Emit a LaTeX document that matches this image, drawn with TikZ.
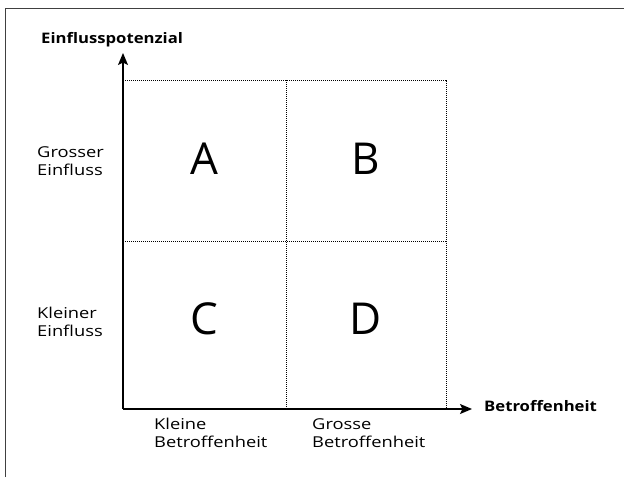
\documentclass[tikz,border=0pt]{standalone}
\usepackage{fontspec}
\setmainfont{Open Sans}
\newfontfamily\widereg{Open Sans}[FakeStretch=1.22]
\newfontfamily\widebold{Open Sans}[FakeStretch=1.15]
\usetikzlibrary{arrows.meta}
\begin{document}
\begin{tikzpicture}[x=1pt,y=-1pt,
  axis/.style={line width=1.3pt,-{Stealth[length=12pt,width=10pt,inset=2.5pt]}},
  grid/.style={line width=1pt,dash pattern=on 1.1pt off 0.9pt},
  quad/.style={font=\fontsize{44}{46}\selectfont,inner sep=0pt},
  lbl/.style={font=\widereg\fontsize{15}{17.5}\selectfont,align=left,anchor=west,inner sep=0pt},
  axlbl/.style={font=\widebold\bfseries\fontsize{14.5}{17}\selectfont,inner sep=0pt}]
\useasboundingbox (0,0) rectangle (624,477);
\fill[white] (0,0) rectangle (624,477);
\draw[line width=1.5pt,black!75] (5.5,477) -- (5.5,8.5) -- (624,8.5);
\coordinate (o) at (123,409);
\coordinate (ytip) at (123,53);
\coordinate (xtip) at (472,409);
\coordinate (tl) at (123,80);
\coordinate (tm) at (286,80);
\coordinate (tr) at (446,80);
\coordinate (bm) at (286,409);
\coordinate (br) at (446,409);
\coordinate (ml) at (123,241);
\coordinate (mr) at (446,241);
\draw[grid] (tl) -- (tr) -- (br);
\draw[grid] (tm) -- (bm);
\draw[grid] (ml) -- (mr);
\draw[axis] (o) -- (ytip);
\draw[axis] (o) -- (xtip);
\node[axlbl,anchor=base west] (yl) at (41,43) {Einflusspotenzial};
\node[axlbl,anchor=base west] (xl) at (484,411) {Betroffenheit};
\node[quad] (A) at (204,159) {A};
\node[quad] (B) at (366,159) {B};
\node[quad] (C) at (204,319) {C};
\node[quad] (D) at (366,319) {D};
\node[lbl] (g) at (37,161) {Grosser\\Einfluss};
\node[lbl] (k) at (37,322) {Kleiner\\Einfluss};
\node[lbl] (kb) at (154,433) {Kleine\\Betroffenheit};
\node[lbl] (gb) at (312,433) {Grosse\\Betroffenheit};
\end{tikzpicture}
\end{document}
